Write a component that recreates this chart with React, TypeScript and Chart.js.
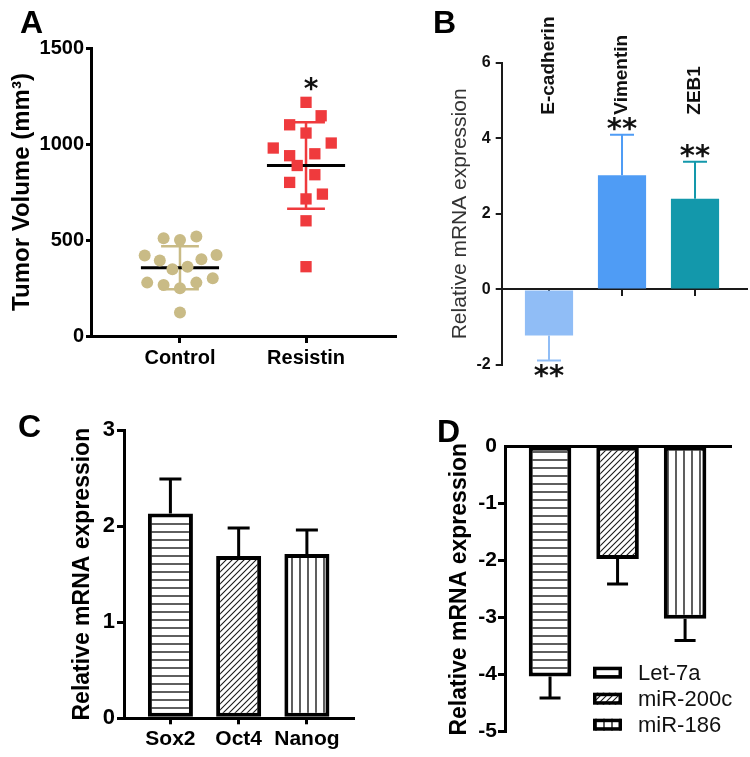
import React, { useEffect, useRef } from 'react';
import { Chart, registerables } from 'chart.js';

Chart.register(...registerables);

const W = 750;
const H = 757;
const FONT = "'Liberation Sans', Arial, Helvetica, sans-serif";
const STAR_FONT = "'DejaVu Sans', 'Liberation Sans', sans-serif";

// ---------- Panel A: tumor volume ----------
const groupsA = ['Control', 'Resistin'];
const controlVolumes = [509, 500, 518, 419, 393, 400, 422, 348, 361, 278, 266, 249, 278, 301, 123];
const controlJitter = [-0.13, 0, 0.13, -0.28, -0.16, 0.17, 0.29, -0.06, 0.06, -0.26, -0.13, 0, 0.13, 0.26, 0];
const resistinVolumes = [1217, 1147, 1100, 1057, 979, 1005, 939, 949, 888, 840, 800, 739, 714, 600, 361];
const resistinJitter = [0, 0.12, -0.13, 0, -0.26, 0.2, -0.13, 0.07, -0.07, 0.07, -0.13, 0.13, 0, 0, 0];
const meansA = [356, 888];
const sdA = [112, 225];
const sigA = ['', '*'];
const ticksA = [0, 500, 1000, 1500];
const colorsA = ['#c9bb86', '#ef3a3d'];

// ---------- Panel B: EMT markers ----------
const genesB = ['E-cadherin', 'Vimentin', 'ZEB1'];
const valuesB = [-1.22, 3.02, 2.4];
const errorsB = [0.66, 1.07, 0.98];
const sigB = ['**', '**', '**'];
const colorsB = ['#90bdf6', '#4f9cf5', '#1398ab'];
const ticksB = [-2, 0, 2, 4, 6];

// ---------- Panel C: stemness genes ----------
const genesC = ['Sox2', 'Oct4', 'Nanog'];
const valuesC = [2.13, 1.69, 1.71];
const errorsC = [0.36, 0.29, 0.25];
const patternsC = ['horizontal', 'diagonal', 'vertical'];
const ticksC = [0, 1, 2, 3];

// ---------- Panel D: miRNAs ----------
const mirsD = ['Let-7a', 'miR-200c', 'miR-186'];
const valuesD = [-4.03, -1.97, -3.02];
const errorsD = [0.38, 0.44, 0.38];
const patternsD = ['horizontal', 'diagonal', 'vertical'];
const ticksD = [-5, -4, -3, -2, -1, 0];

const setTicks = (vals: number[]) => (s: any) => {
  s.ticks = vals.map((v) => ({ value: v }));
};

function makePattern(ctx: CanvasRenderingContext2D, kind: string): any {
  const c = document.createElement('canvas');
  const size = kind === 'diagonal' ? 6 : 8;
  c.width = size;
  c.height = size;
  const g = c.getContext('2d')!;
  g.fillStyle = '#ffffff';
  g.fillRect(0, 0, size, size);
  g.strokeStyle = '#1a1a1a';
  g.lineWidth = kind === 'diagonal' ? 1.1 : 1.4;
  g.beginPath();
  if (kind === 'horizontal') {
    g.moveTo(0, size / 2);
    g.lineTo(size, size / 2);
  } else if (kind === 'vertical') {
    g.moveTo(size / 2, 0);
    g.lineTo(size / 2, size);
  } else {
    g.moveTo(0, size);
    g.lineTo(size, 0);
    g.moveTo(-size / 2, size / 2);
    g.lineTo(size / 2, -size / 2);
    g.moveTo(size / 2, size * 1.5);
    g.lineTo(size * 1.5, size / 2);
  }
  g.stroke();
  return ctx.createPattern(c, 'repeat');
}

function drawCentered(ctx: CanvasRenderingContext2D, text: string, cx: number, cy: number, font: string, color: string) {
  ctx.save();
  ctx.font = font;
  ctx.fillStyle = color;
  ctx.textAlign = 'center';
  ctx.textBaseline = 'alphabetic';
  const m = ctx.measureText(text);
  ctx.fillText(text, cx, cy + (m.actualBoundingBoxAscent - m.actualBoundingBoxDescent) / 2);
  ctx.restore();
}

function letterPlugin(letter: string, x: number, y: number) {
  return {
    id: 'letter' + letter,
    afterDraw(chart: any) {
      const ctx = chart.ctx;
      ctx.save();
      ctx.font = `bold 32px ${FONT}`;
      ctx.fillStyle = '#000';
      ctx.textAlign = 'left';
      ctx.textBaseline = 'alphabetic';
      ctx.fillText(letter, x, y);
      ctx.restore();
    },
  };
}

function barErrorPlugin(id: string, values: number[], errors: number[], colors: string[] | string, lineWidth: number, capHalf: number) {
  return {
    id,
    afterDatasetsDraw(chart: any) {
      const { ctx, scales } = chart;
      const xs = scales.x;
      const ys = scales.y;
      ctx.save();
      ctx.lineWidth = lineWidth;
      values.forEach((v, i) => {
        const px = xs.getPixelForValue(i);
        const dir = v < 0 ? -1 : 1;
        const p0 = ys.getPixelForValue(v);
        const p1 = ys.getPixelForValue(v + dir * errors[i]);
        ctx.strokeStyle = Array.isArray(colors) ? colors[i] : colors;
        ctx.beginPath();
        ctx.moveTo(px, p0);
        ctx.lineTo(px, p1);
        ctx.moveTo(px - capHalf, p1);
        ctx.lineTo(px + capHalf, p1);
        ctx.stroke();
      });
      ctx.restore();
    },
  };
}

const baseOptions = {
  animation: false,
  responsive: false,
  maintainAspectRatio: false,
  events: [],
  plugins: { legend: { display: false }, tooltip: { enabled: false } },
};

function axisStyle(color: string, width: number, tickLength: number) {
  return {
    grid: { display: true, drawOnChartArea: false, color, lineWidth: width, tickLength, offset: false },
    border: { display: true, color, width },
  };
}

// ---------- configs ----------
function configA(ctx: CanvasRenderingContext2D): any {
  const pts = (vals: number[], jit: number[], g: number) => vals.map((v, i) => ({ x: g + jit[i], y: v }));
  const meanSd = {
    id: 'meanSd',
    beforeDatasetsDraw(chart: any) {
      const { ctx: c, scales } = chart;
      const x = scales.x;
      const y = scales.y;
      c.save();
      meansA.forEach((m, i) => {
        const g = i + 1;
        const cx = x.getPixelForValue(g);
        const top = y.getPixelForValue(m + sdA[i]);
        const bot = y.getPixelForValue(m - sdA[i]);
        c.strokeStyle = colorsA[i];
        c.lineWidth = 2.5;
        c.beginPath();
        c.moveTo(cx, top);
        c.lineTo(cx, bot);
        c.moveTo(x.getPixelForValue(g - 0.15), top);
        c.lineTo(x.getPixelForValue(g + 0.15), top);
        c.moveTo(x.getPixelForValue(g - 0.15), bot);
        c.lineTo(x.getPixelForValue(g + 0.15), bot);
        c.stroke();
        const my = y.getPixelForValue(m);
        c.strokeStyle = '#000';
        c.lineWidth = 3;
        c.beginPath();
        c.moveTo(x.getPixelForValue(g - 0.31), my);
        c.lineTo(x.getPixelForValue(g + 0.31), my);
        c.stroke();
      });
      c.restore();
    },
    afterDatasetsDraw(chart: any) {
      const { ctx: c, scales } = chart;
      const groups = [controlVolumes, resistinVolumes];
      sigA.forEach((s, i) => {
        if (!s) return;
        const top = scales.y.getPixelForValue(Math.max(...groups[i]));
        drawCentered(c, s, scales.x.getPixelForValue(i + 1) + 5, top - 18, `bold 28px ${STAR_FONT}`, '#111');
      });
    },
  };
  return {
    type: 'scatter',
    data: {
      datasets: [
        { label: groupsA[0], data: pts(controlVolumes, controlJitter, 1), pointStyle: 'circle', pointRadius: 6, backgroundColor: colorsA[0], borderWidth: 0 },
        { label: groupsA[1], data: pts(resistinVolumes, resistinJitter, 2), pointStyle: 'rect', pointRadius: 8, backgroundColor: colorsA[1], borderWidth: 0 },
      ],
    },
    options: {
      ...baseOptions,
      layout: { padding: { left: 0, top: 48, right: 355, bottom: 0 } },
      scales: {
        x: {
          type: 'linear', min: 0.294, max: 2.706, offset: false,
          afterBuildTicks: setTicks([1, 2]),
          afterFit: (s: any) => { s.height = 421; },
          ticks: { callback: (v: number) => groupsA[v - 1] ?? '', font: { family: FONT, size: 20, weight: 'bold' }, color: '#000', padding: 3, maxRotation: 0, autoSkip: false },
          ...axisStyle('#000', 3, 7),
        },
        y: {
          type: 'linear', min: 0, max: 1500,
          afterBuildTicks: setTicks(ticksA),
          afterFit: (s: any) => { s.width = 91; },
          ticks: { callback: (v: number) => String(v), font: { family: FONT, size: 20, weight: 'bold' }, color: '#000', padding: 2 },
          title: { display: true, text: 'Tumor Volume (mm³)', font: { family: FONT, size: 24, weight: 'bold' }, color: '#000', padding: { top: 7.6, bottom: 0 } },
          ...axisStyle('#000', 3, 5),
        },
      },
    },
    plugins: [meanSd, letterPlugin('A', 20, 33)],
  };
}

function configB(ctx: CanvasRenderingContext2D): any {
  const labels = {
    id: 'labelsB',
    afterDraw(chart: any) {
      const { ctx: c, scales, chartArea } = chart;
      genesB.forEach((g, i) => {
        const px = scales.x.getPixelForValue(i);
        c.save();
        c.translate(px, chartArea.top + 52);
        c.rotate(-Math.PI / 2);
        c.font = `bold 19px ${FONT}`;
        c.fillStyle = '#111';
        c.textAlign = 'left';
        c.textBaseline = 'middle';
        c.fillText(g, 0, 0);
        c.restore();
        const v = valuesB[i];
        const dir = v < 0 ? -1 : 1;
        const end = scales.y.getPixelForValue(v + dir * errorsB[i]);
        drawCentered(c, sigB[i], px, end - dir * 11, `bold 29px ${STAR_FONT}`, '#111');
      });
    },
  };
  return {
    type: 'bar',
    data: {
      datasets: [{ data: valuesB.map((v, i) => ({ x: i, y: v })), backgroundColor: colorsB, borderWidth: 0, barPercentage: 0.66, categoryPercentage: 1 }],
    },
    options: {
      ...baseOptions,
      layout: { padding: { left: 430, top: 62.7, right: 3.3, bottom: 392 } },
      scales: {
        x: {
          type: 'linear', position: { y: 0 }, min: -0.648, max: 2.708, offset: false, z: 1,
          afterBuildTicks: setTicks(genesB.map((_, i) => i)),
          ticks: { callback: () => '', padding: 0 },
          ...axisStyle('#1a1a1a', 2, 6),
        },
        y: {
          type: 'linear', min: -2, max: 6,
          afterBuildTicks: setTicks(ticksB),
          afterFit: (s: any) => { s.width = 71.7; },
          ticks: { font: { family: FONT, size: 16, weight: 'bold' }, color: '#111', padding: 5 },
          title: { display: true, text: 'Relative mRNA expression', font: { family: FONT, size: 21, weight: 'normal' }, color: '#333', padding: { top: 17.4, bottom: 0 } },
          ...axisStyle('#1a1a1a', 2, 6),
        },
      },
    },
    plugins: [barErrorPlugin('errB', valuesB, errorsB, colorsB, 2, 12), labels, letterPlugin('B', 433, 33)],
  };
}

function configC(ctx: CanvasRenderingContext2D): any {
  return {
    type: 'bar',
    data: {
      datasets: [{
        data: valuesC.map((v, i) => ({ x: i, y: v })),
        backgroundColor: patternsC.map((k) => makePattern(ctx, k)),
        borderColor: '#000', borderWidth: 4, borderSkipped: false,
        barPercentage: 0.66, categoryPercentage: 1,
      }],
    },
    options: {
      ...baseOptions,
      layout: { padding: { left: 50, top: 430, right: 396.7, bottom: 0 } },
      scales: {
        x: {
          type: 'linear', min: -0.68, max: 2.68, offset: false,
          afterBuildTicks: setTicks(genesC.map((_, i) => i)),
          afterFit: (s: any) => { s.height = 38.7; },
          ticks: { callback: (v: number) => genesC[v] ?? '', font: { family: FONT, size: 21, weight: 'bold' }, color: '#000', padding: 2, maxRotation: 0, autoSkip: false },
          ...axisStyle('#000', 3, 6),
        },
        y: {
          type: 'linear', min: 0, max: 3,
          afterBuildTicks: setTicks(ticksC),
          afterFit: (s: any) => { s.width = 74; },
          ticks: { font: { family: FONT, size: 22, weight: 'bold' }, color: '#000', padding: 2 },
          title: { display: true, text: 'Relative mRNA expression', font: { family: FONT, size: 23, weight: 'bold' }, color: '#000', padding: { top: 18.7, bottom: 0 } },
          ...axisStyle('#000', 3, 7),
        },
      },
    },
    plugins: [barErrorPlugin('errC', valuesC, errorsC, '#000', 3, 11), letterPlugin('C', 18, 437)],
  };
}

function configD(ctx: CanvasRenderingContext2D): any {
  const pats = patternsD.map((k) => makePattern(ctx, k));
  const legend = {
    id: 'legendD',
    afterDraw(chart: any) {
      const { ctx: c, chartArea } = chart;
      mirsD.forEach((name, i) => {
        const bx = chartArea.right - 138;
        const cy = chartArea.bottom - 7 - (mirsD.length - 1 - i) * 26;
        c.save();
        c.fillStyle = pats[i];
        c.fillRect(bx, cy - 6, 29, 12);
        c.strokeStyle = '#000';
        c.lineWidth = 3.5;
        c.strokeRect(bx + 1.75, cy - 6 + 1.75, 25.5, 8.5);
        c.font = `22px ${FONT}`;
        c.fillStyle = '#111';
        c.textAlign = 'left';
        c.textBaseline = 'middle';
        c.fillText(name, bx + 45, cy + 1);
        c.restore();
      });
    },
  };
  const yAxis = axisStyle('#000', 3, 7);
  return {
    type: 'bar',
    data: {
      datasets: [{
        label: 'miRNA',
        data: valuesD.map((v, i) => ({ x: i, y: v })),
        backgroundColor: pats,
        borderColor: '#000', borderWidth: 4, borderSkipped: false,
        barPercentage: 0.63, categoryPercentage: 1,
      }],
    },
    options: {
      ...baseOptions,
      layout: { padding: { left: 430, top: 400, right: 19, bottom: 25.3 } },
      scales: {
        x: {
          type: 'linear', position: 'top', min: -0.667, max: 2.68, offset: false, z: 1,
          afterBuildTicks: setTicks(mirsD.map((_, i) => i)),
          afterFit: (s: any) => { s.height = 46.7; },
          ticks: { display: false },
          grid: { display: false, offset: false },
          border: { display: true, color: '#000', width: 3 },
        },
        y: {
          type: 'linear', min: -5, max: 0,
          afterBuildTicks: setTicks(ticksD),
          afterFit: (s: any) => { s.width = 75; },
          ticks: { font: { family: FONT, size: 21, weight: 'bold' }, color: '#000', padding: 1 },
          title: { display: true, text: 'Relative mRNA expression', font: { family: FONT, size: 23, weight: 'bold' }, color: '#000', padding: { top: 16, bottom: 0 } },
          grid: { ...yAxis.grid, lineWidth: (c: any) => (c.tick && c.tick.value === 0 ? 0 : 3) },
          border: yAxis.border,
        },
      },
    },
    plugins: [barErrorPlugin('errD', valuesD, errorsD, '#000', 3, 10.5), legend, letterPlugin('D', 437, 442)],
  };
}

function Panel({ build }: { build: (ctx: CanvasRenderingContext2D) => any }) {
  const ref = useRef<HTMLCanvasElement>(null);
  useEffect(() => {
    const canvas = ref.current!;
    const ctx = canvas.getContext('2d')!;
    const chart = new Chart(ctx, build(ctx));
    return () => chart.destroy();
  }, []);
  return (
    <canvas
      ref={ref}
      width={W}
      height={H}
      style={{ position: 'absolute', left: 0, top: 0, width: W, height: H }}
    />
  );
}

export default function App() {
  return (
    <div style={{ position: 'absolute', left: 0, top: 0, width: W, height: H, background: '#fff', overflow: 'hidden' }}>
      <Panel build={configA} />
      <Panel build={configB} />
      <Panel build={configC} />
      <Panel build={configD} />
    </div>
  );
}
